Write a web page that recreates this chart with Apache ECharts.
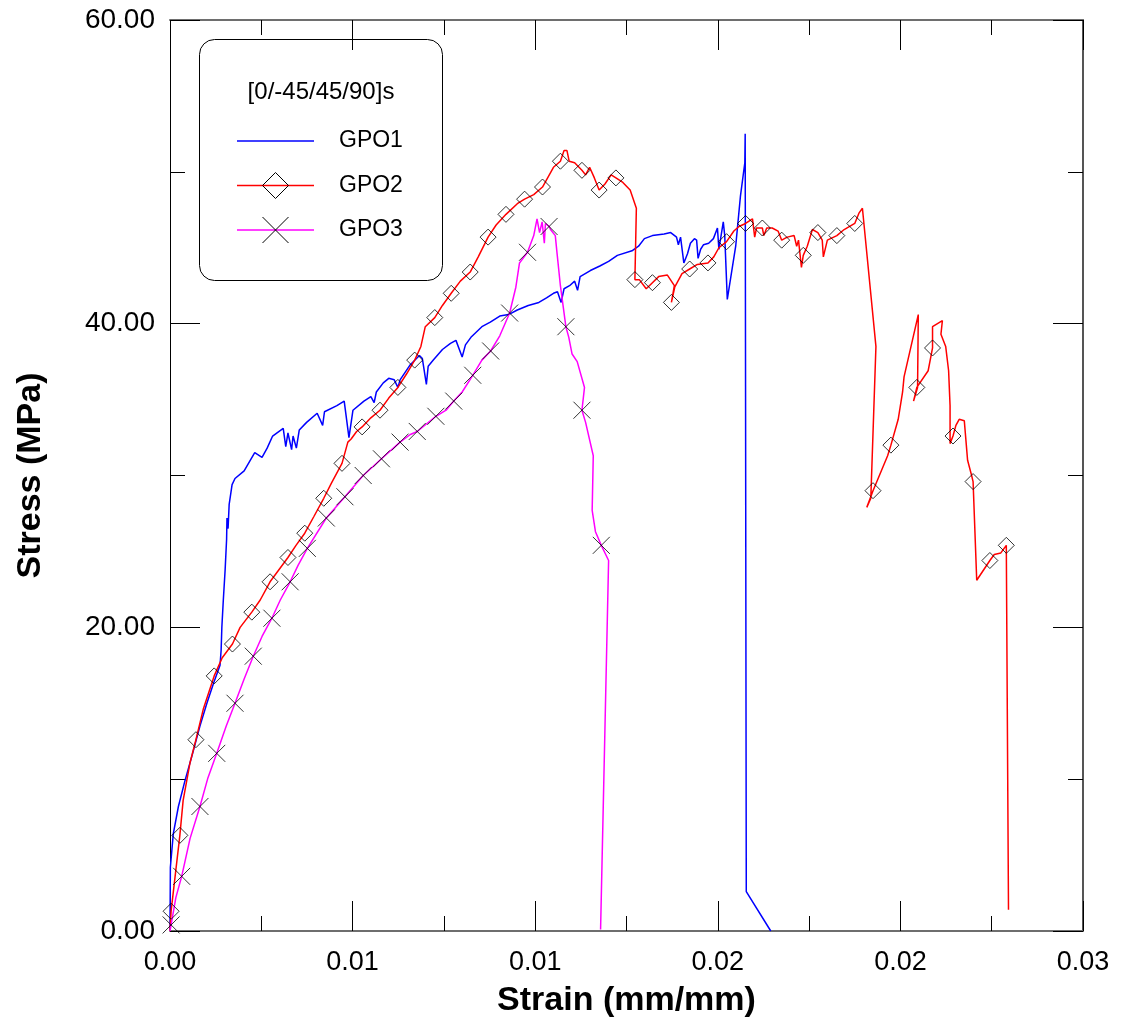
<!DOCTYPE html>
<html>
<head>
<meta charset="utf-8">
<title>Stress-Strain [0/-45/45/90]s</title>
<script src="https://cdn.jsdelivr.net/npm/echarts@6/dist/echarts.min.js"></script>
<style>
html,body{margin:0;padding:0;background:#fff;}
#chart{width:1121px;height:1024px;}
</style>
</head>
<body>
<div id="chart"></div>
<script>
// ---- Data ----
var xTickLabels = ['0.00', '0.01', '0.01', '0.02', '0.02', '0.03'];
var yTickLabels = ['0.00', '20.00', '40.00', '60.00'];
var legendTitle = '[0/-45/45/90]s';
var seriesNames = ['GPO1', 'GPO2', 'GPO3'];

var gpo1Strain = [0, 0.00001, 0.00009, 0.00023, 0.00041, 0.00062, 0.00082, 0.00101, 0.00119, 0.00137, 0.00140, 0.00142, 0.00146, 0.00151, 0.00155, 0.00156, 0.00159, 0.00162, 0.00170, 0.00178, 0.00203, 0.00232, 0.00252, 0.00266, 0.00281, 0.00310, 0.00317, 0.00323, 0.00333, 0.00337, 0.00346, 0.00354, 0.00374, 0.00403, 0.00418, 0.00423, 0.00457, 0.00477, 0.00490, 0.00501, 0.00531, 0.00550, 0.00559, 0.00565, 0.00584, 0.00599, 0.00614, 0.00624, 0.00630, 0.00658, 0.00683, 0.00691, 0.00702, 0.00707, 0.00721, 0.00746, 0.00768, 0.00783, 0.00800, 0.00809, 0.00824, 0.00854, 0.00877, 0.00903, 0.00927, 0.00951, 0.00981, 0.01010, 0.01031, 0.01050, 0.01061, 0.01071, 0.01079, 0.01094, 0.01108, 0.01116, 0.01123, 0.01151, 0.01177, 0.01201, 0.01225, 0.01265, 0.01283, 0.01299, 0.01321, 0.01353, 0.01371, 0.01387, 0.01392, 0.01398, 0.01407, 0.01417, 0.01425, 0.01436, 0.01442, 0.01446, 0.01453, 0.01461, 0.01475, 0.01488, 0.01499, 0.01503, 0.01515, 0.01519, 0.01526, 0.01549, 0.01562, 0.01574, 0.01575, 0.01578, 0.01645];
var gpo1Stress = [0, 4.2, 6.4, 8.2, 9.9, 11.7, 13.5, 15.0, 16.3, 17.5, 18.5, 20.0, 21.8, 23.8, 25.8, 27.2, 26.5, 28.1, 29.4, 29.8, 30.3, 31.5, 31.2, 31.8, 32.6, 33.1, 31.9, 32.8, 31.7, 32.6, 31.8, 33.0, 33.5, 34.1, 33.3, 34.2, 34.6, 34.9, 32.5, 34.3, 34.9, 35.2, 34.8, 35.5, 36.1, 36.4, 36.3, 35.8, 36.3, 37.3, 37.9, 37.7, 36.0, 37.2, 37.6, 38.3, 38.7, 38.9, 37.8, 38.6, 39.1, 39.8, 40.1, 40.5, 40.6, 40.9, 41.2, 41.4, 41.7, 42.0, 42.1, 41.4, 42.3, 42.5, 42.8, 42.2, 43.1, 43.5, 43.8, 44.1, 44.5, 44.8, 45.1, 45.6, 45.8, 45.9, 46.0, 45.7, 45.2, 45.7, 44.0, 44.6, 45.3, 45.6, 45.5, 44.3, 44.9, 45.2, 45.3, 45.6, 46.3, 44.9, 46.7, 45.8, 41.6, 45.1, 48.4, 50.6, 52.5, 2.6, 0.0];

var gpo2Strain = [0.00000, 0.00003, 0.00014, 0.00027, 0.00036, 0.00055, 0.00071, 0.00091, 0.00121, 0.00143, 0.00171, 0.00192, 0.00224, 0.00247, 0.00274, 0.00323, 0.00345, 0.00369, 0.00394, 0.00421, 0.00442, 0.00471, 0.00487, 0.00496, 0.00511, 0.00526, 0.00550, 0.00575, 0.00599, 0.00624, 0.00648, 0.00670, 0.00687, 0.00699, 0.00725, 0.00746, 0.00770, 0.00795, 0.00822, 0.00844, 0.00871, 0.00893, 0.00920, 0.00951, 0.00971, 0.00996, 0.01020, 0.01050, 0.01069, 0.01079, 0.01087, 0.01093, 0.01108, 0.01128, 0.01138, 0.01149, 0.01162, 0.01175, 0.01191, 0.01208, 0.01221, 0.01240, 0.01260, 0.01277, 0.01273, 0.01285, 0.01304, 0.01321, 0.01338, 0.01362, 0.01381, 0.01373, 0.01382, 0.01402, 0.01423, 0.01444, 0.01473, 0.01489, 0.01503, 0.01524, 0.01544, 0.01558, 0.01576, 0.01595, 0.01601, 0.01606, 0.01622, 0.01626, 0.01634, 0.01649, 0.01665, 0.01675, 0.01690, 0.01709, 0.01716, 0.01721, 0.01729, 0.01734, 0.01745, 0.01759, 0.01774, 0.01786, 0.01789, 0.01800, 0.01826, 0.01846, 0.01875, 0.01887, 0.01896, 0.01933, 0.01919, 0.01908, 0.01925, 0.01965, 0.01974, 0.01994, 0.02006, 0.02010, 0.02049, 0.02047, 0.02036, 0.02045, 0.02076, 0.02088, 0.02088, 0.02115, 0.02111, 0.02124, 0.02132, 0.02136, 0.02136, 0.02144, 0.02152, 0.02161, 0.02175, 0.02184, 0.02195, 0.02199, 0.02209, 0.02245, 0.02257, 0.02275, 0.02290, 0.02296];
var gpo2Stress = [0.0, 1.3, 3.6, 6.3, 8.6, 11.1, 12.6, 14.6, 16.8, 18.0, 18.9, 20.0, 21.0, 21.8, 23.0, 24.6, 25.4, 26.2, 27.3, 28.5, 29.5, 30.8, 32.2, 32.4, 32.9, 33.2, 33.8, 34.3, 35.1, 35.8, 36.7, 37.6, 38.5, 39.8, 40.4, 41.2, 42.0, 42.8, 43.4, 44.4, 45.7, 46.5, 47.2, 47.9, 48.2, 48.5, 49.0, 50.3, 50.7, 51.4, 51.4, 50.7, 50.6, 50.1, 49.8, 50.3, 49.6, 48.8, 49.2, 49.8, 49.6, 49.3, 48.8, 47.6, 42.9, 42.9, 42.3, 42.7, 43.1, 43.2, 42.5, 41.4, 42.4, 43.3, 43.6, 43.9, 44.0, 44.4, 45.0, 45.4, 46.1, 46.4, 46.6, 46.9, 45.7, 46.3, 46.3, 45.8, 46.3, 46.3, 46.1, 45.5, 45.7, 45.8, 45.1, 45.5, 43.7, 44.5, 45.1, 46.2, 46.0, 45.5, 44.4, 45.5, 45.8, 46.2, 46.6, 47.3, 47.6, 38.5, 28.5, 27.9, 29.0, 31.3, 32.0, 33.7, 35.5, 36.5, 40.6, 35.8, 34.9, 35.8, 36.9, 38.4, 39.8, 40.2, 39.3, 38.5, 36.9, 34.6, 32.1, 32.6, 33.3, 33.7, 33.6, 31.0, 30.0, 29.6, 23.1, 24.4, 24.8, 24.9, 25.4, 1.4];
var gpo2MarkStrain = [0.00003, 0.00027, 0.00071, 0.00121, 0.00171, 0.00224, 0.00274, 0.00323, 0.00369, 0.00421, 0.00471, 0.00526, 0.00575, 0.00624, 0.00670, 0.00725, 0.00770, 0.00822, 0.00871, 0.00920, 0.00971, 0.01020, 0.01069, 0.01128, 0.01175, 0.01221, 0.01273, 0.01321, 0.01373, 0.01423, 0.01473, 0.01524, 0.01576, 0.01622, 0.01675, 0.01734, 0.01774, 0.01826, 0.01875, 0.01925, 0.01974, 0.02045, 0.02088, 0.02144, 0.02199, 0.02245, 0.02290];
var gpo2MarkStress = [1.3, 6.3, 12.6, 16.8, 18.9, 21.0, 23.0, 24.6, 26.2, 28.5, 30.8, 33.2, 34.3, 35.8, 37.6, 40.4, 42.0, 43.4, 45.7, 47.2, 48.2, 49.0, 50.7, 50.1, 48.8, 49.6, 42.9, 42.7, 41.4, 43.6, 44.0, 45.4, 46.6, 46.3, 45.5, 44.5, 46.0, 45.8, 46.6, 29.0, 32.0, 35.8, 38.4, 32.6, 29.6, 24.4, 25.4];

var gpo3Strain = [0, 0.00003, 0.00016, 0.00032, 0.00055, 0.00082, 0.00104, 0.00128, 0.00154, 0.00178, 0.00203, 0.00228, 0.00252, 0.00279, 0.00302, 0.00329, 0.00351, 0.00376, 0.00428, 0.00479, 0.00529, 0.00579, 0.00630, 0.00658, 0.00677, 0.00728, 0.00756, 0.00777, 0.00800, 0.00829, 0.00854, 0.00878, 0.00903, 0.00930, 0.00947, 0.00957, 0.00979, 0.00996, 0.01005, 0.01012, 0.01019, 0.01025, 0.01028, 0.01038, 0.01042, 0.01055, 0.01060, 0.01069, 0.01084, 0.01092, 0.01101, 0.01115, 0.01135, 0.01128, 0.01138, 0.01159, 0.01156, 0.01165, 0.01181, 0.01201, 0.01179];
var gpo3Stress = [0, 0.4, 2.2, 3.6, 6.1, 8.2, 10.1, 11.7, 13.5, 15.0, 16.6, 18.1, 19.4, 20.6, 21.8, 23.0, 24.1, 25.2, 27.2, 28.6, 30.0, 31.1, 32.2, 32.7, 32.9, 33.9, 34.3, 34.9, 35.5, 36.6, 37.6, 38.2, 39.2, 40.7, 42.4, 44.0, 44.7, 45.8, 46.9, 46.0, 46.7, 45.3, 46.6, 46.4, 46.2, 45.8, 44.6, 42.5, 39.8, 39.1, 38.0, 37.5, 35.8, 34.3, 33.5, 31.3, 27.7, 26.3, 25.4, 24.4, 0.1];
var gpo3MarkStrain = [0.00003, 0.00032, 0.00082, 0.00128, 0.00178, 0.00228, 0.00279, 0.00329, 0.00376, 0.00428, 0.00479, 0.00529, 0.00579, 0.00630, 0.00677, 0.00728, 0.00777, 0.00829, 0.00878, 0.00930, 0.00979, 0.01038, 0.01084, 0.01128, 0.01181];
var gpo3MarkStress = [0.4, 3.6, 8.2, 11.7, 15.0, 18.1, 20.6, 23.0, 25.2, 27.2, 28.6, 30.0, 31.1, 32.2, 32.9, 33.9, 34.9, 36.6, 38.2, 40.7, 44.7, 46.4, 39.8, 34.3, 25.4];

// ---- Build chart ----
function zip(a, b) { return a.map(function (v, i) { return [v, b[i]]; }); }

var FONT = 'Arial, "Liberation Sans", Helvetica, sans-serif';
var BLUE = '#0000ff', RED = '#ff0000', MAGENTA = '#ff00ff';
var CROSS = 'path://M0,0L10,10M10,0L0,10';

var chart = echarts.init(document.getElementById('chart'), null, { renderer: 'canvas' });

function xAxisCfg(pos, showLabel) {
  return {
    type: 'value', position: pos, min: 0, max: 0.025, interval: 0.005,
    name: showLabel ? 'Strain (mm/mm)' : '',
    nameLocation: 'middle', nameGap: 53,
    nameTextStyle: { fontFamily: FONT, fontSize: 34, fontWeight: 'bold', color: '#000' },
    axisLine: { show: true, onZero: false, lineStyle: { color: '#6e6e6e', width: 2 } },
    axisTick: { show: true, inside: true, length: 30, lineStyle: { color: '#000', width: 1 } },
    minorTick: { show: true, splitNumber: 2, length: 15, lineStyle: { color: '#000', width: 1 } },
    splitLine: { show: false },
    axisLabel: {
      show: showLabel, margin: 18, fontFamily: FONT, fontSize: 27, color: '#000',
      formatter: function (v) { return xTickLabels[Math.round(v / 0.005)]; }
    }
  };
}
function yAxisCfg(pos, showLabel) {
  return {
    type: 'value', position: pos, min: 0, max: 60, interval: 20,
    name: showLabel ? 'Stress (MPa)' : '',
    nameLocation: 'middle', nameGap: 122, nameRotate: 90,
    nameTextStyle: { fontFamily: FONT, fontSize: 34, fontWeight: 'bold', color: '#000' },
    axisLine: { show: true, onZero: false, lineStyle: { color: pos === 'left' ? '#000' : '#555', width: pos === 'left' ? 1 : 2 } },
    axisTick: { show: true, inside: true, length: 30, lineStyle: { color: '#000', width: 1 } },
    minorTick: { show: true, splitNumber: 2, length: 15, lineStyle: { color: '#000', width: 1 } },
    splitLine: { show: false },
    axisLabel: {
      show: showLabel, margin: 15, fontFamily: FONT, fontSize: 28, color: '#000',
      formatter: function (v) { return yTickLabels[Math.round(v / 20)]; }
    }
  };
}

// legend drawn as graphic elements (box, title, sample lines & symbols)
var LX = 199.5, LY = 39.5, LW = 243, LH = 241;
var rowY = [141, 185.5, 230];
var lineX1 = 237, lineX2 = 314, symX = 275.5, labX = 339, S = 13;
var legendEls = [
  { type: 'rect', shape: { x: LX, y: LY, width: LW, height: LH, r: 15 }, style: { fill: '#fff', stroke: '#000', lineWidth: 1 } },
  { type: 'text', x: (LX + LX + LW) / 2, y: 92, style: { text: legendTitle, font: '24px ' + FONT, fill: '#000', align: 'center', verticalAlign: 'middle' } }
];
var cols = [BLUE, RED, MAGENTA];
for (var i = 0; i < 3; i++) {
  legendEls.push({ type: 'line', shape: { x1: lineX1, y1: rowY[i], x2: lineX2, y2: rowY[i] }, style: { stroke: cols[i], lineWidth: 1.5 } });
  legendEls.push({ type: 'text', x: labX, y: rowY[i], style: { text: seriesNames[i], font: '23px ' + FONT, fill: '#000', align: 'left', verticalAlign: 'middle' } });
}
legendEls.push({ type: 'polygon', shape: { points: [[symX, rowY[1] - S], [symX + S, rowY[1]], [symX, rowY[1] + S], [symX - S, rowY[1]]] }, style: { fill: 'none', stroke: '#000', lineWidth: 1 } });
legendEls.push({ type: 'line', shape: { x1: symX - S, y1: rowY[2] - S, x2: symX + S, y2: rowY[2] + S }, style: { stroke: '#000', lineWidth: 1 } });
legendEls.push({ type: 'line', shape: { x1: symX - S, y1: rowY[2] + S, x2: symX + S, y2: rowY[2] - S }, style: { stroke: '#000', lineWidth: 1 } });

var option = {
  animation: false,
  backgroundColor: '#fff',
  grid: { left: 170, right: 38, top: 20, bottom: 93, containLabel: false, outerBoundsMode: 'none' },
  xAxis: [xAxisCfg('bottom', true), xAxisCfg('top', false)],
  yAxis: [yAxisCfg('left', true), yAxisCfg('right', false)],
  series: [
    { name: 'GPO1', type: 'line', data: zip(gpo1Strain, gpo1Stress), symbol: 'none', lineStyle: { color: BLUE, width: 1.5 }, z: 2 },
    { name: 'GPO2', type: 'line', data: zip(gpo2Strain, gpo2Stress), symbol: 'none', lineStyle: { color: RED, width: 1.5 }, z: 2 },
    { name: 'GPO3', type: 'line', data: zip(gpo3Strain, gpo3Stress), symbol: 'none', lineStyle: { color: MAGENTA, width: 1.5 }, z: 2 },
    { name: 'GPO2 markers', type: 'scatter', data: zip(gpo2MarkStrain, gpo2MarkStress), symbol: 'diamond', symbolSize: 16,
      itemStyle: { color: 'rgba(0,0,0,0)', borderColor: '#000', borderWidth: 1 }, z: 3 },
    { name: 'GPO3 markers', type: 'scatter', data: zip(gpo3MarkStrain, gpo3MarkStress), symbol: CROSS, symbolSize: 17,
      itemStyle: { color: 'rgba(0,0,0,0)', borderColor: '#000', borderWidth: 1 }, z: 3 }
  ],
  graphic: legendEls
};
chart.setOption(option);
</script>
</body>
</html>
